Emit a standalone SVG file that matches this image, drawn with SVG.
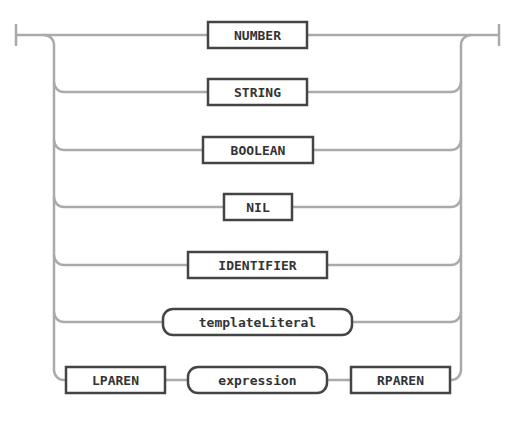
<svg xmlns="http://www.w3.org/2000/svg" width="517" height="427" viewBox="0 0 517 427">
<style>
.c{fill:none;stroke:#aaaaaa;stroke-width:2.5}
.b{fill:#ffffff;stroke:#444444;stroke-width:2.5}
.t{font-family:"DejaVu Sans Mono","Liberation Mono",monospace;font-size:13px;font-weight:bold;fill:#333333;text-anchor:middle;dominant-baseline:central}
</style>
<rect width="517" height="427" fill="#ffffff"/>
<g id="connectors">
<path class="c" d="M16 24V46M16 35H208M307 35H499M499 24V46"/>
<path class="c" d="M44 35A10 10 0 0 1 54 45V370A10 10 0 0 0 64 380H66"/>
<path class="c" d="M54 82A10 10 0 0 0 64 92H208M307 92H451A10 10 0 0 0 461 82"/>
<path class="c" d="M54 140A10 10 0 0 0 64 150H203M313 150H451A10 10 0 0 0 461 140"/>
<path class="c" d="M54 197A10 10 0 0 0 64 207H224M292 207H451A10 10 0 0 0 461 197"/>
<path class="c" d="M54 255A10 10 0 0 0 64 265H188M327 265H451A10 10 0 0 0 461 255"/>
<path class="c" d="M54 312A10 10 0 0 0 64 322H163M352 322H451A10 10 0 0 0 461 312"/>
<path class="c" d="M165 380H188M327 380H351M450 380H451A10 10 0 0 0 461 370V45A10 10 0 0 1 471 35"/>
</g>
<g id="NUMBER"><rect class="b" x="208" y="22" width="99" height="26"/><text class="t" x="257.5" y="35">NUMBER</text></g>
<g id="STRING"><rect class="b" x="208" y="79" width="99" height="26"/><text class="t" x="257.5" y="92">STRING</text></g>
<g id="BOOLEAN"><rect class="b" x="203" y="137" width="110" height="26"/><text class="t" x="258" y="150">BOOLEAN</text></g>
<g id="NIL"><rect class="b" x="224" y="194" width="68" height="26"/><text class="t" x="258" y="207">NIL</text></g>
<g id="IDENTIFIER"><rect class="b" x="188" y="252" width="139" height="26"/><text class="t" x="257.5" y="265">IDENTIFIER</text></g>
<g id="templateLiteral"><rect class="b" x="163" y="309" width="189" height="26" rx="10"/><text class="t" x="257.5" y="322">templateLiteral</text></g>
<g id="LPAREN"><rect class="b" x="66" y="367" width="99" height="26"/><text class="t" x="115.5" y="380">LPAREN</text></g>
<g id="expression"><rect class="b" x="188" y="367" width="139" height="26" rx="10"/><text class="t" x="257.5" y="380">expression</text></g>
<g id="RPAREN"><rect class="b" x="351" y="367" width="99" height="26"/><text class="t" x="400.5" y="380">RPAREN</text></g>
</svg>
